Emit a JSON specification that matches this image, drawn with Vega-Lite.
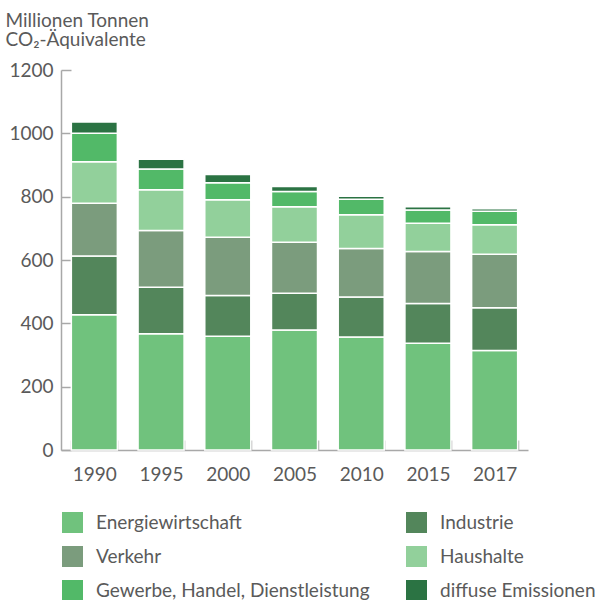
{
  "$schema": "https://vega.github.io/schema/vega-lite/v6.json",
  "width": 467,
  "height": 380,
  "autosize": {"type": "none"},
  "padding": {"left": 61, "top": 70, "right": 73, "bottom": 150},
  "background": "white",
  "config": {
    "view": {"stroke": null},
    "font": "Lato",
    "axis": {"labelFont": "Lato", "titleFont": "Lato", "labelColor": "#5a5a5a", "titleColor": "#5a5a5a", "domainColor": "#a8a8a8", "tickColor": "#a8a8a8", "domainWidth": 1.5, "tickWidth": 1.5},
    "legend": {"labelFont": "Lato", "labelColor": "#5a5a5a"}
  },
  "data": {
    "values": [
      {"Jahr": "1990", "Sektor": "Energiewirtschaft", "Wert": 427},
      {"Jahr": "1990", "Sektor": "Industrie", "Wert": 186},
      {"Jahr": "1990", "Sektor": "Verkehr", "Wert": 166},
      {"Jahr": "1990", "Sektor": "Haushalte", "Wert": 131},
      {"Jahr": "1990", "Sektor": "Gewerbe, Handel, Dienstleistung", "Wert": 90},
      {"Jahr": "1990", "Sektor": "diffuse Emissionen", "Wert": 36},
      {"Jahr": "1995", "Sektor": "Energiewirtschaft", "Wert": 367},
      {"Jahr": "1995", "Sektor": "Industrie", "Wert": 147},
      {"Jahr": "1995", "Sektor": "Verkehr", "Wert": 179},
      {"Jahr": "1995", "Sektor": "Haushalte", "Wert": 129},
      {"Jahr": "1995", "Sektor": "Gewerbe, Handel, Dienstleistung", "Wert": 65},
      {"Jahr": "1995", "Sektor": "diffuse Emissionen", "Wert": 31},
      {"Jahr": "2000", "Sektor": "Energiewirtschaft", "Wert": 359},
      {"Jahr": "2000", "Sektor": "Industrie", "Wert": 129},
      {"Jahr": "2000", "Sektor": "Verkehr", "Wert": 184},
      {"Jahr": "2000", "Sektor": "Haushalte", "Wert": 118},
      {"Jahr": "2000", "Sektor": "Gewerbe, Handel, Dienstleistung", "Wert": 54},
      {"Jahr": "2000", "Sektor": "diffuse Emissionen", "Wert": 26},
      {"Jahr": "2005", "Sektor": "Energiewirtschaft", "Wert": 379},
      {"Jahr": "2005", "Sektor": "Industrie", "Wert": 116},
      {"Jahr": "2005", "Sektor": "Verkehr", "Wert": 161},
      {"Jahr": "2005", "Sektor": "Haushalte", "Wert": 112},
      {"Jahr": "2005", "Sektor": "Gewerbe, Handel, Dienstleistung", "Wert": 48},
      {"Jahr": "2005", "Sektor": "diffuse Emissionen", "Wert": 16},
      {"Jahr": "2010", "Sektor": "Energiewirtschaft", "Wert": 357},
      {"Jahr": "2010", "Sektor": "Industrie", "Wert": 126},
      {"Jahr": "2010", "Sektor": "Verkehr", "Wert": 153},
      {"Jahr": "2010", "Sektor": "Haushalte", "Wert": 107},
      {"Jahr": "2010", "Sektor": "Gewerbe, Handel, Dienstleistung", "Wert": 49},
      {"Jahr": "2010", "Sektor": "diffuse Emissionen", "Wert": 9},
      {"Jahr": "2015", "Sektor": "Energiewirtschaft", "Wert": 337},
      {"Jahr": "2015", "Sektor": "Industrie", "Wert": 126},
      {"Jahr": "2015", "Sektor": "Verkehr", "Wert": 164},
      {"Jahr": "2015", "Sektor": "Haushalte", "Wert": 89},
      {"Jahr": "2015", "Sektor": "Gewerbe, Handel, Dienstleistung", "Wert": 42},
      {"Jahr": "2015", "Sektor": "diffuse Emissionen", "Wert": 10},
      {"Jahr": "2017", "Sektor": "Energiewirtschaft", "Wert": 314},
      {"Jahr": "2017", "Sektor": "Industrie", "Wert": 135},
      {"Jahr": "2017", "Sektor": "Verkehr", "Wert": 169},
      {"Jahr": "2017", "Sektor": "Haushalte", "Wert": 93},
      {"Jahr": "2017", "Sektor": "Gewerbe, Handel, Dienstleistung", "Wert": 43},
      {"Jahr": "2017", "Sektor": "diffuse Emissionen", "Wert": 8}
    ]
  },
  "transform": [
    {"calculate": "indexof(['Energiewirtschaft','Industrie','Verkehr','Haushalte','Gewerbe, Handel, Dienstleistung','diffuse Emissionen'], datum.Sektor)", "as": "reihenfolge"}
  ],
  "mark": {"type": "bar", "stroke": "white", "strokeWidth": 1.5},
  "encoding": {
    "x": {
      "field": "Jahr", "type": "ordinal",
      "scale": {"paddingInner": 0.31, "paddingOuter": 0.155},
      "axis": {"title": null, "labelAngle": 0, "labelFontSize": 19, "tickBand": "extent", "tickSize": -10, "labelPadding": 25}
    },
    "y": {
      "field": "Wert", "type": "quantitative", "stack": "zero",
      "scale": {"domain": [0, 1200], "nice": false},
      "axis": {
        "values": [0, 200, 400, 600, 800, 1000, 1200], "format": "d",
        "grid": false, "tickSize": -10, "labelPadding": 18, "labelFontSize": 19,
        "title": ["Millionen Tonnen", "CO₂-Äquivalente"],
        "titleAngle": 0, "titleAlign": "left", "titleBaseline": "alphabetic",
        "titleX": -56, "titleY": -44, "titleFontSize": 19, "titleFontWeight": "normal", "titleLineHeight": 19
      }
    },
    "color": {
      "field": "Sektor", "type": "nominal",
      "scale": {
        "domain": ["Energiewirtschaft", "Industrie", "Verkehr", "Haushalte", "Gewerbe, Handel, Dienstleistung", "diffuse Emissionen"],
        "range": ["#70c27d", "#53865b", "#7b9c7d", "#92d09b", "#52b968", "#2b7343"]
      },
      "legend": {
        "title": null, "orient": "none", "legendX": 1, "legendY": 442,
        "columns": 2, "direction": "horizontal", "columnPadding": 36, "rowPadding": 13,
        "symbolType": "square", "symbolSize": 441, "symbolStrokeWidth": 0, "symbolOpacity": 1,
        "labelFontSize": 19, "labelOffset": 13, "labelLimit": 400
      }
    },
    "order": {"field": "reihenfolge", "type": "quantitative"}
  }
}
